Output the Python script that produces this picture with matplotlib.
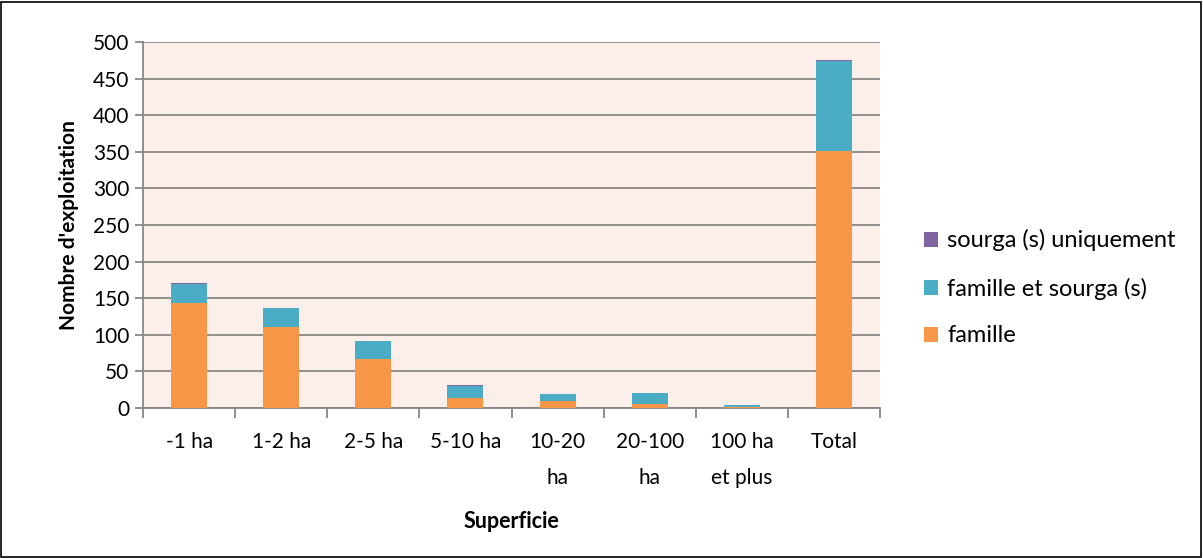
import matplotlib
matplotlib.use("Agg")
import matplotlib.pyplot as plt
import numpy as np
from matplotlib.patches import Rectangle

CATEGORIES = ["-1 ha", "1-2 ha", "2-5 ha", "5-10 ha", "10-20\nha", "20-100\nha", "100 ha\net plus", "Total"]
FAMILLE = [144, 110, 67, 13, 9, 6, 2, 351]
FAMILLE_SOURGA = [26, 26, 24, 17, 10, 14, 2, 123]
SOURGA_SEUL = [1, 0, 0, 1, 0, 0, 0, 2]

ORANGE, BLUE, PURPLE = "#F79646", "#4BACC6", "#8064A2"
BG = "#FCEEE9"
GRID = "#878787"

plt.rcParams["font.family"] = ["Lato", "DejaVu Sans"]

fig = plt.figure(figsize=(12.03, 5.58), dpi=100)
ax = fig.add_axes([0.1189, 0.2688, 0.6126, 0.6559])
ax.set_facecolor(BG)

x = np.arange(len(CATEGORIES))
w = 0.39
fam = np.array(FAMILLE)
fs = np.array(FAMILLE_SOURGA)
ss = np.array(SOURGA_SEUL)
ax.bar(x, fam, w, color=ORANGE, label="famille", zorder=3)
ax.bar(x, fs, w, bottom=fam, color=BLUE, label="famille et sourga (s)", zorder=3)
ax.bar(x, ss, w, bottom=fam + fs, color=PURPLE, label="sourga (s) uniquement", zorder=3)

ax.set_xlim(-0.5, len(CATEGORIES) - 0.5)
ax.set_ylim(0, 500)
ax.set_yticks(np.arange(0, 501, 50))
ax.yaxis.grid(True, color=GRID, lw=1.3, zorder=0)
ax.set_axisbelow(True)

ax.set_xticks(x)
ax.set_xticklabels(CATEGORIES, fontsize=15, linespacing=2.05)
ax.set_xticks(np.arange(-0.5, len(CATEGORIES)), minor=True)
ax.tick_params(axis="x", which="major", length=0, pad=17)
ax.tick_params(axis="x", which="minor", length=7, width=1.3, color=GRID, direction="out")
ax.tick_params(axis="y", length=6, width=1.3, color=GRID, labelsize=15, pad=4)

for side in ["top", "right"]:
    ax.spines[side].set_visible(False)
for side in ["left", "bottom"]:
    ax.spines[side].set_color(GRID)
    ax.spines[side].set_linewidth(1.3)

ax.set_ylabel("Nombre d'exploitation", fontsize=15, fontweight="bold", labelpad=10)
ax.set_xlabel("Superficie", fontsize=15.5, fontweight="bold", labelpad=16)

handles, labels = ax.get_legend_handles_labels()
fig.legend(handles[::-1], labels[::-1], loc="center left", bbox_to_anchor=(0.75, 0.484),
           frameon=False, fontsize=17, handlelength=0.6, handleheight=0.6,
           handletextpad=0.4, labelspacing=1.1)

fig.patches.append(Rectangle((0.001, 0.002), 0.997, 0.995, transform=fig.transFigure,
                             fill=False, edgecolor="black", lw=1.2))

fig.savefig("out.png", dpi=100, facecolor="white")
